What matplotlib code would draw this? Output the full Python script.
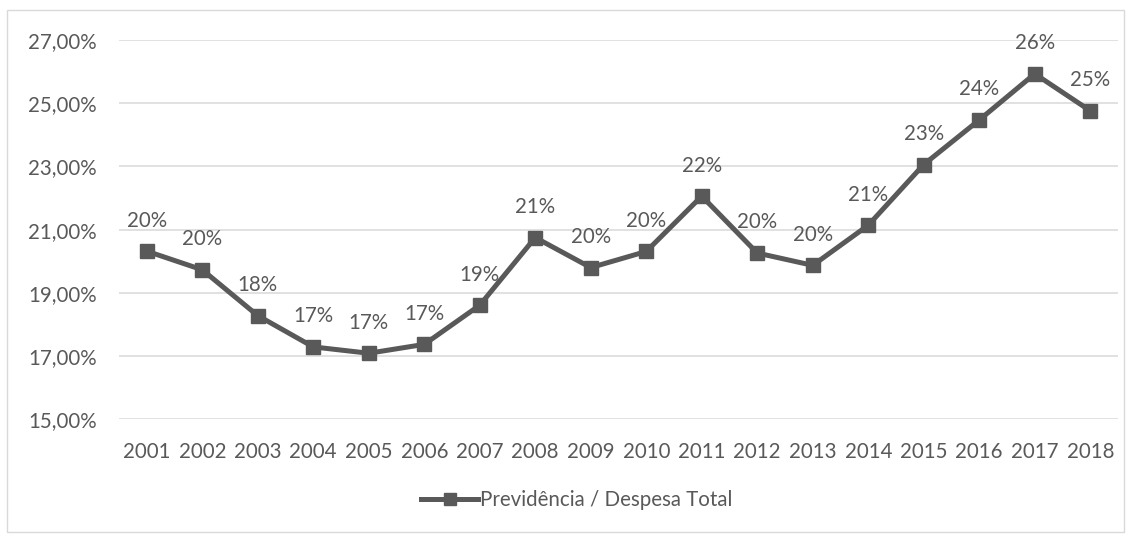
import matplotlib
matplotlib.use("Agg")
import matplotlib.pyplot as plt
from matplotlib.patches import Rectangle
from matplotlib.lines import Line2D

years = ["2001", "2002", "2003", "2004", "2005", "2006", "2007", "2008", "2009",
         "2010", "2011", "2012", "2013", "2014", "2015", "2016", "2017", "2018"]
values = [20.32, 19.73, 18.28, 17.29, 17.09, 17.37, 18.61, 20.75, 19.80,
          20.31, 22.06, 20.26, 19.87, 21.14, 23.06, 24.47, 25.93, 24.76]
point_labels = ["20%", "20%", "18%", "17%", "17%", "17%", "19%", "21%", "20%",
                "20%", "22%", "20%", "20%", "21%", "23%", "24%", "26%", "25%"]
y_ticks = [15, 17, 19, 21, 23, 25, 27]
y_tick_labels = ["15,00%", "17,00%", "19,00%", "21,00%", "23,00%", "25,00%", "27,00%"]
series_name = "Previdência / Despesa Total"

plt.rcParams['font.family'] = ['Lato', 'DejaVu Sans']
TXT = "#595959"
LINE = "#595959"
FS = 14.8

fig = plt.figure(figsize=(11.31, 5.36), dpi=100)
ax = fig.add_axes([119/1131, (536-419.3)/536, (1118-119)/1131, (419.3-40)/536])

x = list(range(len(years)))
ax.plot(x, values, color=LINE, linewidth=3.6, marker='s', markersize=9.5,
        markerfacecolor=LINE, markeredgecolor=LINE, zorder=3)
for xi, v, lab in zip(x, values, point_labels):
    ax.annotate(lab, (xi, v), xytext=(0, 22), textcoords='offset points',
                ha='center', va='center', fontsize=FS, color=TXT)

ax.set_xlim(-0.5, len(years) - 0.5)
ax.set_ylim(15, 27)
ax.set_yticks(y_ticks)
ax.set_yticklabels(y_tick_labels)
ax.set_xticks(x)
ax.set_xticklabels(years)
ax.tick_params(axis='y', length=0, pad=16, labelsize=FS, labelcolor=TXT)
ax.tick_params(axis='x', length=0, pad=16, labelsize=FS, labelcolor=TXT)
ax.grid(axis='y', color='#D9D9D9', linewidth=1.1)
ax.set_axisbelow(True)
for s in ax.spines.values():
    s.set_visible(False)

handle = Line2D([0], [0], color=LINE, linewidth=3.6, marker='s', markersize=8.5)
fig.legend([handle], [series_name], loc='center', bbox_to_anchor=(0.51, 1 - 500/536),
           frameon=False, fontsize=FS, labelcolor=TXT, handlelength=2.8,
           handletextpad=0.1)

fig.patches.append(Rectangle((7/1131, 4/536), 1117/1131, 522/536, transform=fig.transFigure,
                             fill=False, edgecolor='#D9D9D9', linewidth=1.0))

fig.savefig("out.png", dpi=100, facecolor='white')
